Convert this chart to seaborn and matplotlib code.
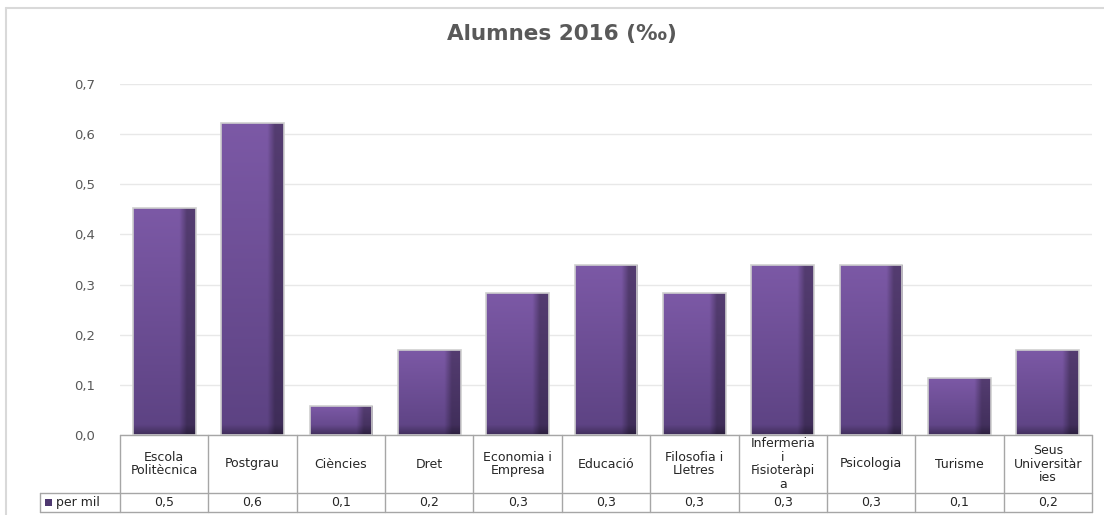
import numpy as np
import pandas as pd
import matplotlib
matplotlib.use("Agg")
import matplotlib.pyplot as plt
import matplotlib.transforms as mtransforms
from matplotlib.lines import Line2D
from matplotlib.patches import Rectangle
import seaborn as sns

categories = ["Escola\nPolitècnica", "Postgrau", "Ciències", "Dret", "Economia i\nEmpresa",
              "Educació", "Filosofia i\nLletres", "Infermeria\ni\nFisioteràpi\na",
              "Psicologia", "Turisme", "Seus\nUniversitàr\nies"]
values = [0.453, 0.623, 0.057, 0.170, 0.283, 0.340, 0.283, 0.340, 0.340, 0.113, 0.170]
series_name = "per mil"
title = "Alumnes 2016 (‰)"
yticks = [0.0, 0.1, 0.2, 0.3, 0.4, 0.5, 0.6, 0.7]

sns.set_theme(style="white")
plt.rcParams['font.family'] = ['DejaVu Sans']

W, H = 1104, 515
fig = plt.figure(figsize=(W / 100, H / 100), dpi=100)
ax = fig.add_axes([120 / W, 1 - 435 / H, (1092 - 120) / W, (435 - 84) / H])

df = pd.DataFrame({"cat": categories, "val": values})
sns.barplot(data=df, x="cat", y="val", ax=ax, color="#6A4C93", width=0.71, saturation=1)

# gradient fill for bars
nh, nw = 200, 80
t = np.linspace(0, 1, nw)
top = np.array([124, 89, 166]) / 255
bot = np.array([92, 66, 130]) / 255

for p in ax.patches:
    x0, y0 = p.get_x(), p.get_y()
    w, h = p.get_width(), p.get_height()
    rows = np.linspace(0, 1, nh)[:, None]
    base = top * (1 - rows[..., None]) + bot * rows[..., None]
    base = np.broadcast_to(base, (nh, nw, 3)).copy()
    hs = np.where(t < 0.74, 1.0, 1.0 - np.clip((t - 0.74) / 0.12, 0, 1) * 0.32)
    img = base * hs[None, :, None]
    band_frac = min(1.0, (0.02 / h) if h > 0 else 1.0)
    r = np.linspace(0, 1, nh)
    dark = np.clip((r - (1 - band_frac)) / band_frac, 0, 1)
    img = img * (1 - 0.3 * dark)[:, None, None]
    p.set_facecolor("none")
    p.set_edgecolor("#CFCFCF")
    p.set_linewidth(1.2)
    p.set_zorder(3)
    im = ax.imshow(img, extent=(x0, x0 + w, y0, y0 + h), aspect="auto", zorder=2.5,
                   interpolation="bilinear")
    im.set_clip_path(p)

ax.set_xlim(-0.5, len(categories) - 0.5)
ax.set_ylim(0, 0.7)
ax.set_yticks(yticks)
ax.set_yticklabels([f"{y:.1f}".replace(".", ",") for y in yticks], color="#595959", fontsize=9.5)
ax.tick_params(axis="y", length=0, pad=18)
ax.set_xticks([])
ax.set_xlabel("")
ax.set_ylabel("")
ax.yaxis.grid(True, color="#E8E8E8", linewidth=1)
ax.set_axisbelow(True)
for s in ["left", "right", "top", "bottom"]:
    ax.spines[s].set_visible(False)

ax.set_title(title, fontsize=15.5, fontweight="bold", color="#595959", pad=32)
ax.title.set_position((0.455, 1.0))

# data table below
tr = mtransforms.blended_transform_factory(ax.transData, ax.transAxes)
lc = "#A6A6A6"
n = len(categories)
h1 = -58 / 351
h2 = -77 / 351
xl = -0.5 - 80 / 88.4
kw = dict(color=lc, linewidth=1, transform=tr, clip_on=False)
ax.add_line(Line2D([-0.5, n - 0.5], [0, 0], **kw))
ax.add_line(Line2D([xl, n - 0.5], [h1, h1], **kw))
ax.add_line(Line2D([xl, n - 0.5], [h2, h2], **kw))
for i in range(n + 1):
    ax.add_line(Line2D([i - 0.5, i - 0.5], [0, h2], **kw))
ax.add_line(Line2D([xl, xl], [h1, h2], **kw))

for i, (c, v) in enumerate(zip(categories, values)):
    ax.text(i, h1 / 2, c, transform=tr, ha="center", va="center", fontsize=9,
            color="#262626", linespacing=1.05, clip_on=False)
    ax.text(i, (h1 + h2) / 2, f"{v:.1f}".replace(".", ","), transform=tr, ha="center",
            va="center", fontsize=9, color="#262626", clip_on=False)

ax.add_patch(Rectangle((xl + 0.06, (h1 + h2) / 2 - 0.009), 0.08, 0.018, transform=tr,
                       facecolor="#4E3870", edgecolor="none", clip_on=False))
ax.text(xl + 0.18, (h1 + h2) / 2, series_name, transform=tr, ha="left", va="center",
        fontsize=9, color="#262626", clip_on=False)

# outer frame
fig.add_artist(Line2D([6 / W, 1.0], [1 - 8 / H, 1 - 8 / H], color="#D9D9D9", linewidth=1.5,
                      transform=fig.transFigure))
fig.add_artist(Line2D([6 / W, 6 / W], [0, 1 - 8 / H], color="#D9D9D9", linewidth=1.5,
                      transform=fig.transFigure))

fig.savefig("out.png", dpi=100, facecolor="white")
